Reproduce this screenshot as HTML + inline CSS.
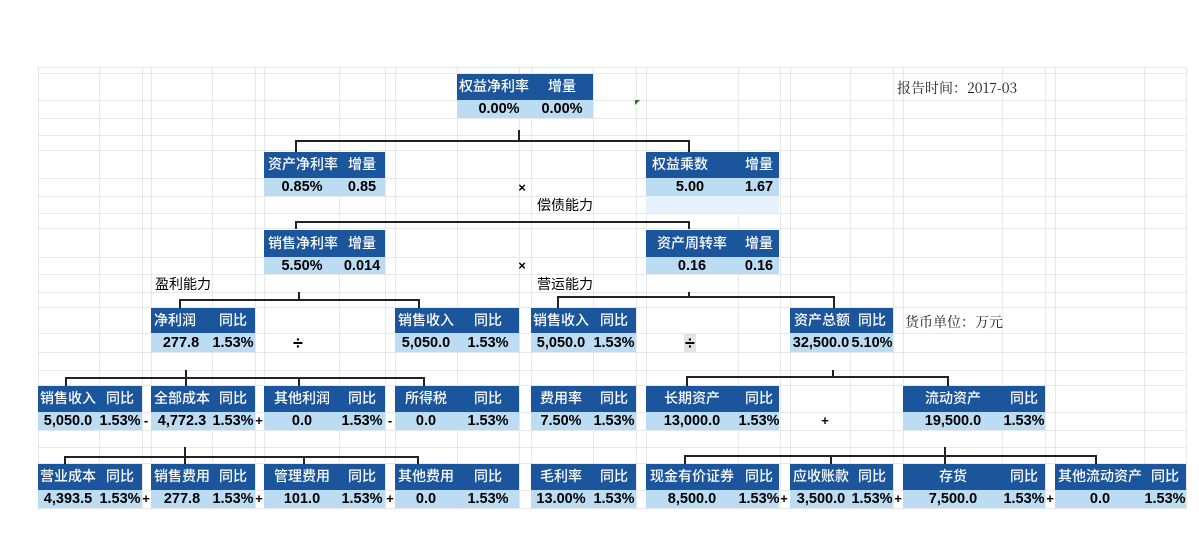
<!DOCTYPE html>
<html><head><meta charset="utf-8">
<style>
html,body{margin:0;padding:0;background:#fff;}
#root{position:relative;width:1199px;height:560px;overflow:hidden;font-family:"Liberation Sans","Noto Sans CJK SC",sans-serif;}
.gl{position:absolute;background:#e8e8e8;}
.hd{position:absolute;background:#1b559b;}
.vl{position:absolute;background:#bcdcf3;}
.t{position:absolute;white-space:nowrap;transform:translateX(-50%);line-height:1;}
.ht{color:#fff;font-size:14px;font-weight:500;font-family:"Noto Sans CJK SC","WenQuanYi Zen Hei",sans-serif;}
.vt{color:#000;font-size:14.5px;font-weight:bold;font-family:"Liberation Sans Narrow","Liberation Sans",sans-serif;}
.op{position:absolute;font-size:13px;font-weight:bold;transform:translateX(-50%);line-height:1;}
.ln{position:absolute;background:#222;}
.lab{position:absolute;font-size:14px;font-family:"Noto Sans CJK SC",sans-serif;white-space:nowrap;line-height:1;}
</style></head>
<body>
<div id="root"></div>
<script>
const root=document.getElementById('root');
const colX=[37.5,98.7,141.6,151,211.6,254.5,264,338.7,384.6,395,457,518.5,530.8,593,636,645.8,737.5,779.5,789.8,850,893,903,1002,1045,1054.5,1144,1186];
const rowY=[67,73,100,118,135,150,178,196,213,228,257,274,292,307,333,352,370,385,412,430,447,463,490,508];
function mk(cls,st){const d=document.createElement('div');d.className=cls;Object.assign(d.style,st);root.appendChild(d);return d;}
colX.forEach(x=>{const d=mk('gl',{left:x+'px',top:'67px',width:'1px',height:'443px'});

});
rowY.forEach(y=>{const d=mk('gl',{left:'37px',top:y+'px',width:'1150px',height:'1px'});

});

const boxes=[
[457,593,74,100,118,'权益净利率',494,'增量',562,'0.00%',499,'0.00%',562,'roe'],
[264,384.6,152,178,196,'资产净利率',303,'增量',362,'0.85%',302,'0.85',362,'roa'],
[645.8,779.5,152,178,196,'权益乘数',680,'增量',759,'5.00',690,'1.67',759,'equity-multiplier'],
[264,384.6,230,257,274,'销售净利率',303,'增量',362,'5.50%',302,'0.014',362,'net-margin'],
[645.8,779.5,230,257,274,'资产周转率',692,'增量',759,'0.16',692,'0.16',759,'asset-turnover'],
[151,254.5,308,333,352,'净利润',175,'同比',233,'277.8',181,'1.53%',233,'net-profit'],
[395,518.5,308,333,352,'销售收入',426,'同比',488,'5,050.0',426,'1.53%',488,'sales-revenue-a'],
[530.8,636,308,333,352,'销售收入',561,'同比',614,'5,050.0',561,'1.53%',614,'sales-revenue-b'],
[789.8,893,308,333,352,'资产总额',822,'同比',872,'32,500.0',821,'5.10%',872,'total-assets'],
[37.5,141.6,386,412,430,'销售收入',68,'同比',120,'5,050.0',68,'1.53%',120,'sales-revenue-c'],
[151,254.5,386,412,430,'全部成本',182,'同比',233,'4,772.3',182,'1.53%',233,'total-cost'],
[264,384.6,386,412,430,'其他利润',302,'同比',362,'0.0',302,'1.53%',362,'other-profit'],
[395,518.5,386,412,430,'所得税',426,'同比',488,'0.0',426,'1.53%',488,'income-tax'],
[530.8,636,386,412,430,'费用率',561,'同比',614,'7.50%',561,'1.53%',614,'expense-ratio'],
[645.8,779.5,386,412,430,'长期资产',692,'同比',759,'13,000.0',692,'1.53%',759,'long-term-assets'],
[903,1045,386,412,430,'流动资产',953,'同比',1024,'19,500.0',953,'1.53%',1024,'current-assets'],
[37.5,141.6,464,490,508,'营业成本',68,'同比',120,'4,393.5',68,'1.53%',120,'operating-cost'],
[151,254.5,464,490,508,'销售费用',182,'同比',233,'277.8',182,'1.53%',233,'selling-expense'],
[264,384.6,464,490,508,'管理费用',302,'同比',362,'101.0',302,'1.53%',362,'admin-expense'],
[395,518.5,464,490,508,'其他费用',426,'同比',488,'0.0',426,'1.53%',488,'other-expense'],
[530.8,636,464,490,508,'毛利率',561,'同比',614,'13.00%',561,'1.53%',614,'gross-margin'],
[645.8,779.5,464,490,508,'现金有价证券',692,'同比',759,'8,500.0',692,'1.53%',759,'cash-securities'],
[789.8,893,464,490,508,'应收账款',821,'同比',872,'3,500.0',821,'1.53%',872,'receivables'],
[903,1045,464,490,508,'存货',953,'同比',1024,'7,500.0',953,'1.53%',1024,'inventory'],
[1054.5,1186,464,490,508,'其他流动资产',1100,'同比',1165,'0.0',1100,'1.53%',1165,'other-current-assets']
];
boxes.forEach(b=>{
 const [x0,x1,ht,vt,vb,l,lx,s,sx,v,vx,v2,v2x,n]=b;
 const h=mk('hd',{left:x0+'px',top:ht+'px',width:(x1-x0)+'px',height:(vt-ht)+'px'});
 
 
 const v_=mk('vl',{left:x0+'px',top:vt+'px',width:(x1-x0)+'px',height:(vb-vt)+'px'});
 
 
 const mid=(ht+vt)/2-8, vm=(vt+vb)/2-7;
 const a=mk('t ht',{left:lx+'px',top:mid+'px'});a.textContent=l;
 
 
 const c=mk('t ht',{left:sx+'px',top:mid+'px'});c.textContent=s;
 
 
 const d=mk('t vt',{left:vx+'px',top:vm+'px'});d.textContent=v;
 
 
 const e=mk('t vt',{left:v2x+'px',top:vm+'px'});e.textContent=v2;
 
 
});
const lr=mk('vl',{left:'645.8px',top:'196px',width:'133.7px',height:'17px',background:'#e6f2fb'});



const conns=[
[140,295,688,518,130,[295,688],152],
[221,295,688,null,0,[295,688],229],
[299,179,418,298,292,[179,418],308],
[296,557,833,688,292,[557,833],308],
[377,65,423,185,370,[65,185,298,423],386],
[376,686,947,832,370,[686,947],386],
[456,64,417,184,447,[64,184,303,417],464],
[455,684,1095,944,447,[684,830,944,1095],464]
];
conns.forEach(c=>{
 const [y,x0,x1,ux,ut,ds,db]=c;
 const h=mk('ln',{left:x0+'px',top:y+'px',width:(x1-x0+1)+'px',height:'1.5px'});
 
 
 if(ux!==null){const u=mk('ln',{left:ux+'px',top:ut+'px',width:'1.5px',height:(y-ut)+'px'});
 
 }
 ds.forEach(x=>{const d=mk('ln',{left:x+'px',top:y+'px',width:'1.5px',height:(db-y)+'px'});
 
 });
});
const ops=[[522,181,'×',13],[522,259,'×',13],[298,334,'÷',18],[690,334,'÷',18],[146,414,'-',13],[259,414,'+',13],[390,414,'-',13],[825,414,'+',13],
[146,492,'+',13],[259,492,'+',13],[390,492,'+',13],[784,492,'+',13],[898,492,'+',13],[1050,492,'+',13]];
ops.forEach(o=>{const d=mk('op',{left:o[0]+'px',top:o[1]+'px',fontSize:o[3]+'px'});d.textContent=o[2];
 if(o[0]===690&&o[2]==='÷'){d.style.background='#e4e4e4';d.style.padding='0 1px';}
 
 });
const labs=[[537,198,'偿债能力','solvency-label'],[155,277,'盈利能力','profitability-label'],[537,277,'营运能力','operation-label'],
[905,315,'货币单位：万元','currency-unit-label'],[897,81,'报告时间：2017-03','report-time-label']];
labs.forEach(l=>{const d=mk('lab',{left:l[0]+'px',top:l[1]+'px'});d.textContent=l[2];
 if(l[3]==='report-time-label'||l[3]==='currency-unit-label'){d.style.fontFamily='"Noto Serif CJK SC","Liberation Serif",serif';d.style.color='#222';}
 
 });
const g=mk('gl',{left:'635px',top:'100px',width:'0',height:'0',background:'transparent',borderTop:'5px solid #1a7a1a',borderRight:'5px solid transparent'});


</script>
</body></html>
